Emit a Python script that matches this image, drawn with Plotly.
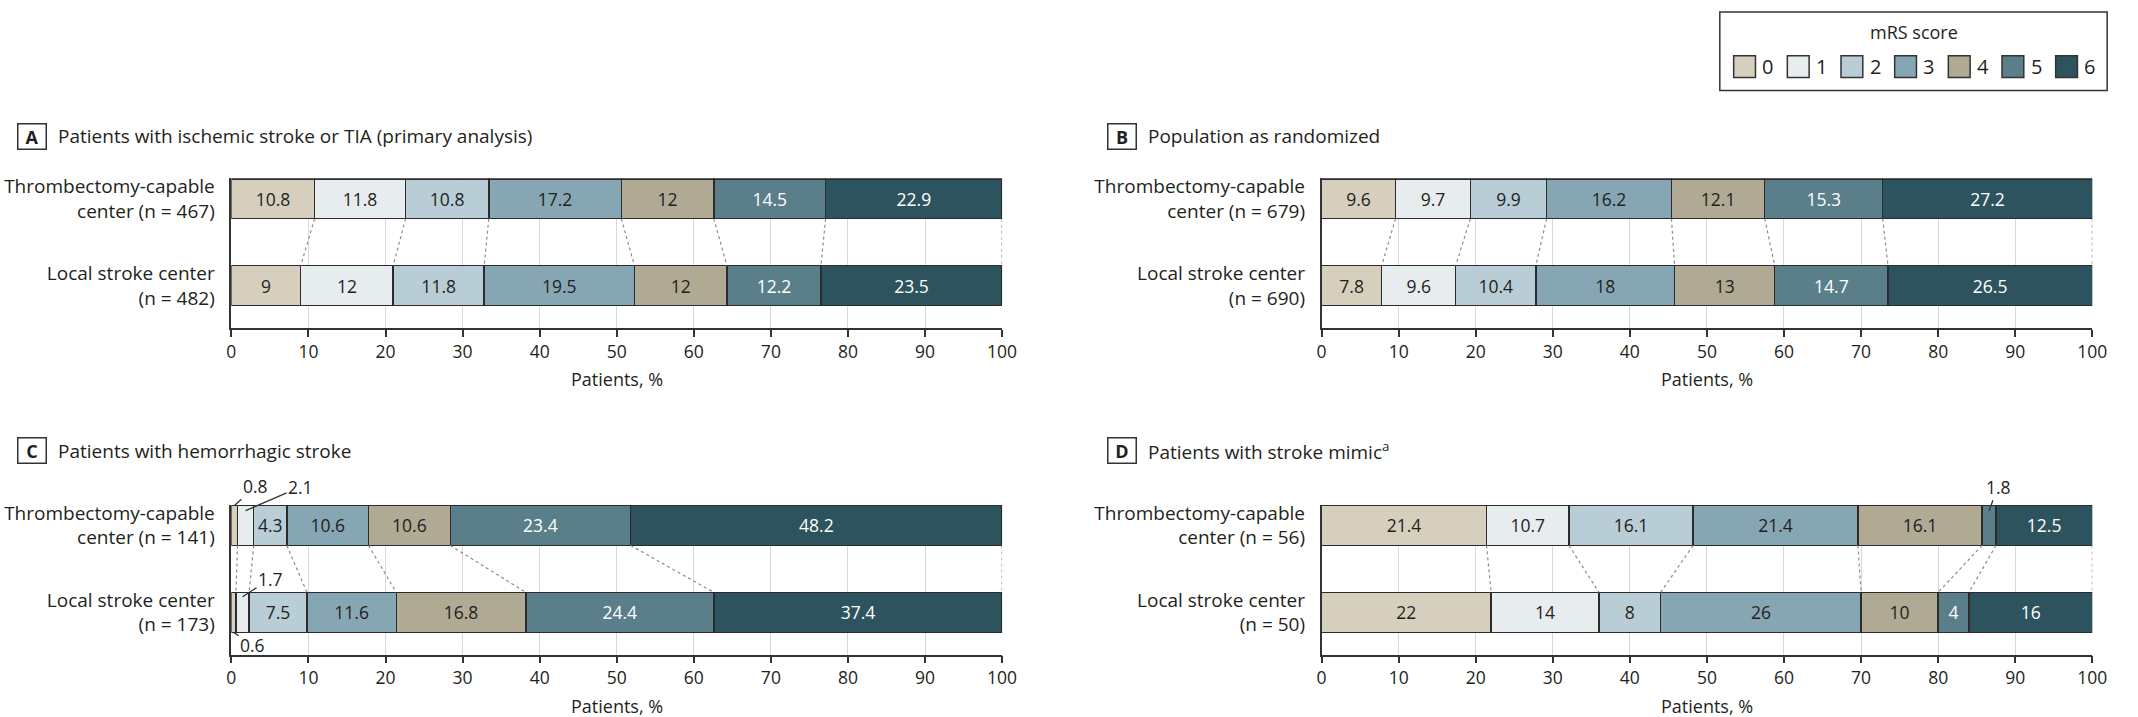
import plotly.graph_objects as go

# ---------------- data ----------------
SCORES = ["0", "1", "2", "3", "4", "5", "6"]

A_TITLE = "Patients with ischemic stroke or TIA (primary analysis)"
B_TITLE = "Population as randomized"
C_TITLE = "Patients with hemorrhagic stroke"
D_TITLE = "Patients with stroke mimic<sup>a</sup>"

A_LABELS = ["Thrombectomy-capable<br>center (n = 467)", "Local stroke center<br>(n = 482)"]
B_LABELS = ["Thrombectomy-capable<br>center (n = 679)", "Local stroke center<br>(n = 690)"]
C_LABELS = ["Thrombectomy-capable<br>center (n = 141)", "Local stroke center<br>(n = 173)"]
D_LABELS = ["Thrombectomy-capable<br>center (n = 56)", "Local stroke center<br>(n = 50)"]

A_TOP = [10.8, 11.8, 10.8, 17.2, 12, 14.5, 22.9]
A_BOT = [9, 12, 11.8, 19.5, 12, 12.2, 23.5]
B_TOP = [9.6, 9.7, 9.9, 16.2, 12.1, 15.3, 27.2]
B_BOT = [7.8, 9.6, 10.4, 18, 13, 14.7, 26.5]
C_TOP = [0.8, 2.1, 4.3, 10.6, 10.6, 23.4, 48.2]
C_BOT = [0.6, 1.7, 7.5, 11.6, 16.8, 24.4, 37.4]
D_TOP = [21.4, 10.7, 16.1, 21.4, 16.1, 1.8, 12.5]
D_BOT = [22, 14, 8, 26, 10, 4, 16]

X_TICKS = list(range(0, 101, 10))
X_TITLE = "Patients, %"
LEGEND_TITLE = "mRS score"

# ---------------- style ----------------
W, H = 2138, 717
FONT = "Open Sans"
INK = "#231f20"
COLORS = ["#d6cfbe", "#e7edee", "#b9cdd6", "#87a6b4", "#b0a994", "#5b7f8a", "#2d545e"]
TXT_COLORS = [INK, INK, INK, INK, INK, "#ffffff", "#ffffff"]
BAR_W = 0.46
YR = [-0.485, 1.235]
PX_PER_Y = 87.5
PLOT_H = (YR[1] - YR[0]) * PX_PER_Y
TOP_PAD = (YR[1] - 1 - BAR_W / 2) * PX_PER_Y


def fx(px):
    return px / W


def fy(py):
    return 1 - py / H


panels = [
    dict(letter="A", title=A_TITLE, labels=A_LABELS, top=A_TOP, bot=A_BOT, x0=228.5, x1=1006.5, ytop=175, ttl=132),
    dict(letter="B", title=B_TITLE, labels=B_LABELS, top=B_TOP, bot=B_BOT, x0=1329, x1=2107, ytop=175, ttl=132),
    dict(letter="C", title=C_TITLE, labels=C_LABELS, top=C_TOP, bot=C_BOT, x0=228.5, x1=1006.5, ytop=504, ttl=449),
    dict(letter="D", title=D_TITLE, labels=D_LABELS, top=D_TOP, bot=D_BOT, x0=1329, x1=2107, ytop=504, ttl=449),
]

# small segments labelled outside with leader lines: (panel, row, index, ax, ay, y offset in bar units)
SMALL = [
    (2, 1, 0, 21, -19, BAR_W / 2),
    (2, 1, 1, 55, -24, BAR_W / 2 - 0.06),
    (2, 0, 1, 28, -18, BAR_W / 2 - 0.05),
    (2, 0, 0, 19, 13, -BAR_W / 2),
    (3, 1, 5, 9, -24, BAR_W / 2 - 0.06),
]


def lab(v):
    return "" if v < 3 else f"{v:g}"


def cums(vals):
    out, s = [], 0.0
    for v in vals:
        s += v
        out.append(s)
    return out


fig = go.Figure()
layout = dict(
    width=W, height=H, autosize=False,
    margin=dict(l=0, r=0, t=0, b=0),
    paper_bgcolor="white", plot_bgcolor="white",
    barmode="stack", showlegend=False,
    font=dict(family=FONT, color=INK, size=17),
)
annotations = []
shapes = []

for i, p in enumerate(panels):
    n = i + 1
    xa = "x" if n == 1 else f"x{n}"
    ya = "y" if n == 1 else f"y{n}"
    xkey = "xaxis" if n == 1 else f"xaxis{n}"
    ykey = "yaxis" if n == 1 else f"yaxis{n}"
    ytop_px = p["ytop"] - TOP_PAD
    ybot_px = ytop_px + PLOT_H
    layout[xkey] = dict(
        domain=[fx(p["x0"]), fx(p["x1"])], range=[0, 100], anchor=ya,
        tickvals=X_TICKS, ticks="outside", ticklen=7, tickwidth=1.5, tickcolor="#333",
        showline=True, linecolor="#333", linewidth=1.5,
        showgrid=True, gridcolor="#d9d9d9", gridwidth=1, zeroline=False,
        tickfont=dict(size=17.5, color=INK, family=FONT), fixedrange=True,
    )
    layout[ykey] = dict(
        domain=[fy(ybot_px), fy(ytop_px)], range=YR, anchor=xa,
        tickvals=[1, 0], ticktext=p["labels"],
        ticks="outside", ticklen=11, tickcolor="rgba(0,0,0,0)",
        showline=True, linecolor="#333", linewidth=1.5,
        showgrid=False, zeroline=False,
        tickfont=dict(size=19, color=INK, family=FONT), fixedrange=True,
    )

    # connectors between cumulative boundaries
    ct, cb = cums(p["top"]), cums(p["bot"])
    for k in range(len(SCORES)):
        fig.add_trace(go.Scatter(
            x=[ct[k], cb[k]], y=[1 - BAR_W / 2, BAR_W / 2], mode="lines",
            line=dict(color="#8c8c8c", width=1.2, dash="dot"),
            xaxis=xa, yaxis=ya, hoverinfo="skip", showlegend=False,
        ))

    for k, s in enumerate(SCORES):
        fig.add_trace(go.Bar(
            x=[p["top"][k], p["bot"][k]], y=[1, 0], orientation="h", width=BAR_W,
            name=s, marker=dict(color=COLORS[k], line=dict(color="#2b2b2b", width=1.5)),
            text=[lab(p["top"][k]), lab(p["bot"][k])], textposition="inside",
            insidetextanchor="middle", textangle=0,
            textfont=dict(size=17.5, color=TXT_COLORS[k], family=FONT),
            xaxis=xa, yaxis=ya, hoverinfo="skip", showlegend=False,
        ))

    # panel letter box + title
    annotations.append(dict(
        x=fx(p["x0"] - 201.5), y=fy(p["ttl"]), xref="paper", yref="paper",
        text=f"<b>{p['letter']}</b>", showarrow=False, font=dict(size=18, color=INK, family=FONT),
        bordercolor="#333", borderwidth=1.5, borderpad=1, width=25, height=22,
        xanchor="center", yanchor="middle", align="center", valign="middle",
    ))
    annotations.append(dict(
        x=fx(p["x0"] - 177), y=fy(p["ttl"]), xref="paper", yref="paper",
        text=p["title"], showarrow=False, font=dict(size=19, color=INK, family=FONT),
        xanchor="left", yanchor="middle",
    ))
    # x axis title
    annotations.append(dict(
        x=fx((p["x0"] + p["x1"]) / 2), y=fy(p["ytop"] + 201.5), xref="paper", yref="paper",
        text=X_TITLE, showarrow=False, font=dict(size=18, color=INK, family=FONT),
        xanchor="center", yanchor="middle",
    ))

# outside labels for tiny segments
for (pi, row, k, ax, ay, yoff) in SMALL:
    p = panels[pi]
    vals = p["top"] if row == 1 else p["bot"]
    start = sum(vals[:k])
    n = pi + 1
    annotations.append(dict(
        x=start + vals[k] / 2, y=row + yoff,
        xref="x" if n == 1 else f"x{n}", yref="y" if n == 1 else f"y{n}",
        text=f"{vals[k]:g}", showarrow=True, arrowhead=0, arrowwidth=1.3, arrowcolor="#333",
        ax=ax, ay=ay, standoff=0, startstandoff=0,
        font=dict(size=17.5, color=INK, family=FONT),
    ))

# legend (manual, boxed)
shapes.append(dict(type="rect", xref="paper", yref="paper",
                   x0=fx(1731), x1=fx(2122), y0=fy(86), y1=fy(7),
                   line=dict(color="#333", width=1.5), fillcolor="white"))
annotations.append(dict(x=fx(1927), y=fy(27), xref="paper", yref="paper", text=LEGEND_TITLE,
                        showarrow=False, font=dict(size=18, color=INK, family=FONT),
                        xanchor="center", yanchor="middle"))
for k, s in enumerate(SCORES):
    sx = 1745 + 54.17 * k
    shapes.append(dict(type="rect", xref="paper", yref="paper",
                       x0=fx(sx), x1=fx(sx + 22), y0=fy(73), y1=fy(51),
                       line=dict(color="#333", width=1.5), fillcolor=COLORS[k]))
    annotations.append(dict(x=fx(sx + 27), y=fy(62), xref="paper", yref="paper", text=s,
                            showarrow=False, font=dict(size=20, color=INK, family=FONT),
                            xanchor="left", yanchor="middle"))

layout["annotations"] = annotations
layout["shapes"] = shapes
fig.update_layout(**layout)
fig.write_html("out.html")
